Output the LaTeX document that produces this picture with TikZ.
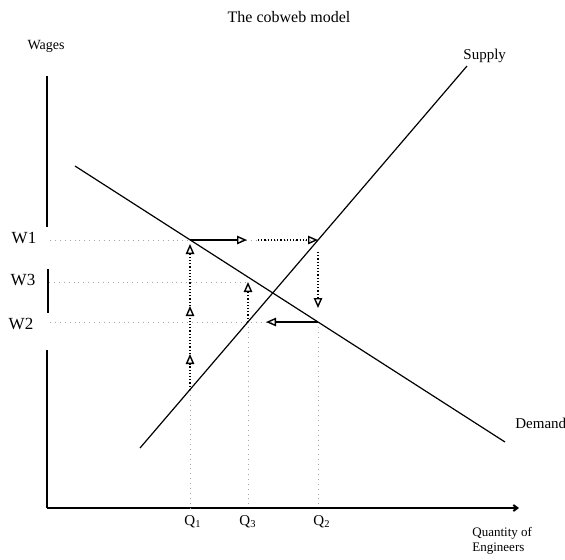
\documentclass[tikz,border=0pt]{standalone}
\usepackage{fontspec}
\setmainfont{Liberation Serif}
\usetikzlibrary{arrows.meta}

\begin{document}
\begin{tikzpicture}[x=0.5pt,y=-0.5pt,
    curve/.style={line width=0.6pt},
    axis/.style={line width=1pt},
    guide/.style={gray!70, dotted, line width=0.45pt},
    web/.style={black, line width=0.6pt, -{Triangle[open,length=5pt,width=4.2pt,line width=0.7pt]}},
    webdot/.style={web, densely dotted},
    lbl/.style={font=\fontsize{7.5}{9}\selectfont, inner sep=0pt}]
    \useasboundingbox (0,0) rectangle (565,559);
    % points of the cobweb
    \coordinate (A) at (190,240);   % Q1, W1 on demand
    \coordinate (B) at (318,240);   % Q2, W1 on supply
    \coordinate (C) at (318,322);   % Q2, W2 on demand
    \coordinate (D) at (248,322);   % Q3, W2 on supply
    \coordinate (E) at (248,282);   % Q3, W3
    \coordinate (F) at (190,390);   % Q1 on supply
    % axes
    \draw[axis] (47,76) -- (47,227);
    \draw[axis] (48,269) -- (48,313);
    \draw[axis] (47,350) -- (47,508);
    \draw[axis, -{Straight Barb[length=2pt,width=3pt]}] (47,508) coordinate (O) -- (519,508);
    % guide lines
    \draw[guide] (50,240) -- (A) -- (B);
    \draw[guide] (49,282) -- (E);
    \draw[guide] (50,322) -- (C);
    \draw[guide] (F) -- (F |- O);
    \draw[guide] (D) -- (D |- O);
    \draw[guide] (C) -- (C |- O);
    % supply and demand
    \draw[curve] (140,448) coordinate (sbot) -- (467,66) coordinate (stop);
    \draw[curve] (75,166) coordinate (dtop) -- (505,442) coordinate (dbot);
    % cobweb arrows
    \coordinate (q1a) at (190,354);
    \coordinate (q1b) at (190,306);
    \draw[webdot] (F) -- (q1a);
    \draw[webdot] (q1a) -- (q1b);
    \draw[webdot] (q1b) -- ([yshift=-2pt]A);
    \draw[web] (A) -- (247,240);
    \draw[webdot] (258,240) -- (B);
    \draw[webdot] (318,252) -- (318,308);
    \draw[web] (C) -- (266,322);
    \draw[webdot] (D) -- (E);
    % labels
    \node[lbl, font=\fontsize{8}{9}\selectfont] (title) at (289,17) {The cobweb model};
    \node[lbl, font=\fontsize{7}{8}\selectfont] (wages) at (46,46) {Wages};
    \node[lbl, anchor=west] (supply) at (463,56) {Supply};
    \node[lbl, anchor=west] (demand) at (515,423) {Demand};
    \node[lbl, font=\fontsize{8.5}{10}\selectfont] (w1) at (24,238) {W1};
    \node[lbl, font=\fontsize{8.5}{10}\selectfont] (w3) at (23,280) {W3};
    \node[lbl, font=\fontsize{8.5}{10}\selectfont] (w2) at (21,324) {W2};
    \node[lbl] (q1) at (193,522) {Q\textsubscript{1}};
    \node[lbl] (q3) at (248,522) {Q\textsubscript{3}};
    \node[lbl] (q2) at (322,522) {Q\textsubscript{2}};
    \node[lbl, anchor=west, font=\fontsize{6.5}{8}\selectfont] (qty) at (472,533) {Quantity of};
    \node[lbl, anchor=west, font=\fontsize{6.5}{8}\selectfont] (eng) at (472,549) {Engineers};
\end{tikzpicture}
\end{document}
